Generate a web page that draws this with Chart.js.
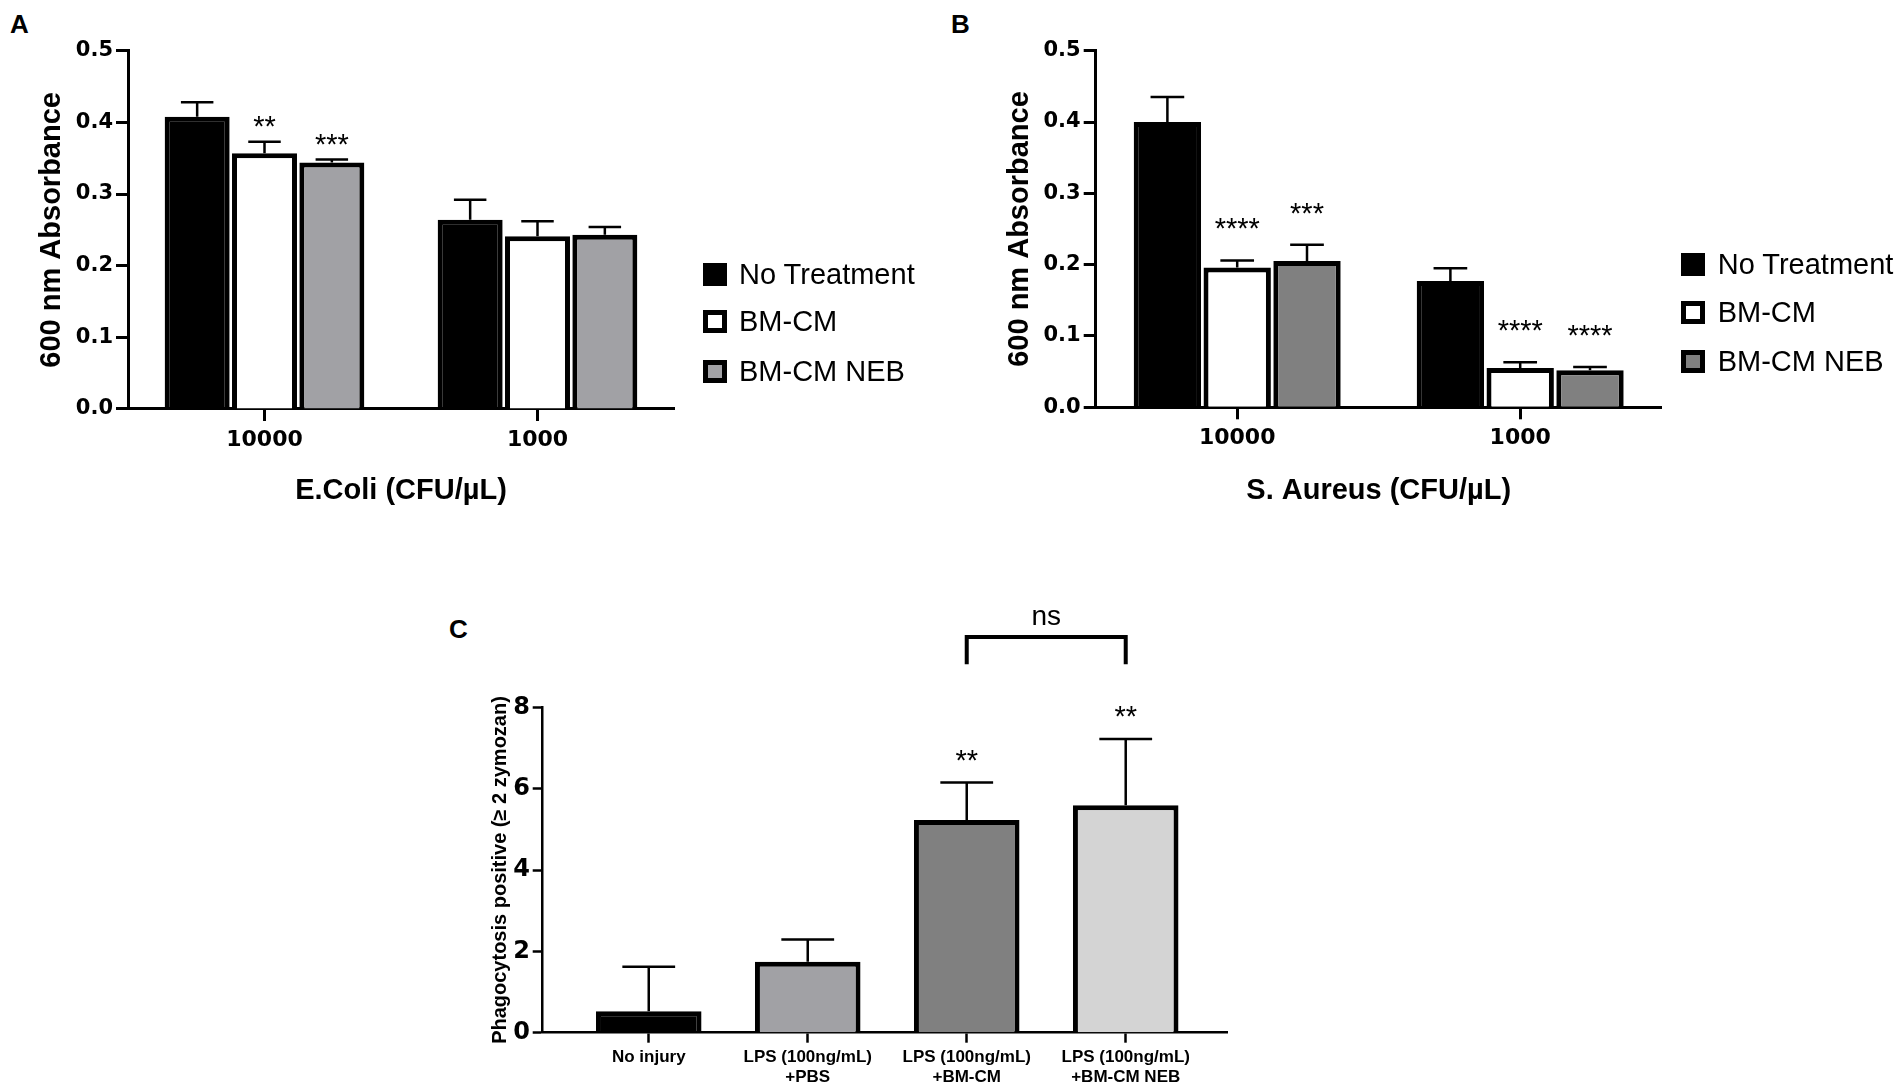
<!DOCTYPE html>
<html><head><meta charset="utf-8">
<script src="https://cdn.jsdelivr.net/npm/chart.js@4.4.1/dist/chart.umd.min.js"></script>
<style>
html,body{margin:0;padding:0;background:#fff;}
body{width:1901px;height:1090px;position:relative;overflow:hidden;font-family:'Liberation Sans',Arial,sans-serif;color:#000;}
canvas{position:absolute;left:0;top:0;}
.panel{position:absolute;font-weight:bold;font-size:26px;line-height:1;}
.legend{position:absolute;left:0;top:0;}
.legend .row{position:absolute;height:24px;display:flex;align-items:center;white-space:nowrap;}
.legend .box{width:24px;height:23px;box-sizing:border-box;border:5px solid #000;flex:none;}
.legend .lbl{font-size:29px;margin-left:12px;}
</style></head>
<body>
<div class="panel" style="left:10px;top:11px">A</div>
<div class="panel" style="left:951px;top:11px">B</div>
<div class="panel" style="left:449px;top:616px">C</div>
<canvas id="cA" width="1901" height="1090"></canvas>
<canvas id="cB" width="1901" height="1090"></canvas>
<canvas id="cC" width="1901" height="1090"></canvas>
<div id="legA" class="legend"></div>
<div id="legB" class="legend"></div>
<script>
// ---------------- data ----------------
const seriesNames = ['No Treatment', 'BM-CM', 'BM-CM NEB'];
const yTickLabelsAB = ['0.0', '0.1', '0.2', '0.3', '0.4', '0.5'];

// Panel A : E. coli
const ecoliCats = ['10000', '1000'];
const ecoliNoTreat = [0.408, 0.264];
const ecoliBMCM = [0.357, 0.241];
const ecoliNEB = [0.344, 0.243];
const ecoliNoTreatErr = [0.020, 0.028];
const ecoliBMCMErr = [0.016, 0.021];
const ecoliNEBErr = [0.004, 0.011];
const ecoliNoTreatStars = ['', ''];
const ecoliBMCMStars = ['**', ''];
const ecoliNEBStars = ['***', ''];

// Panel B : S. aureus
const saureusCats = ['10000', '1000'];
const saureusNoTreat = [0.400, 0.177];
const saureusBMCM = [0.196, 0.055];
const saureusNEB = [0.205, 0.052];
const saureusNoTreatErr = [0.035, 0.018];
const saureusBMCMErr = [0.010, 0.008];
const saureusNEBErr = [0.023, 0.0045];
const saureusNoTreatStars = ['', ''];
const saureusBMCMStars = ['****', '****'];
const saureusNEBStars = ['***', '****'];

// Panel C : phagocytosis
const phagoCats = [['No injury'], ['LPS (100ng/mL)', '+PBS'], ['LPS (100ng/mL)', '+BM-CM'], ['LPS (100ng/mL)', '+BM-CM NEB']];
const phagoValues = [0.53, 1.745, 5.23, 5.59];
const phagoErr = [1.09, 0.545, 0.92, 1.63];
const phagoStars = ['', '', '**', '**'];
const yTickLabelsC = ['0', '2', '4', '6', '8'];
const phagoComparison = { from: 2, to: 3, label: 'ns' };

// ---------------- styles ----------------
const colorsA = ['#000000', '#ffffff', '#a1a1a5'];
const colorsB = ['#000000', '#ffffff', '#808080'];
const colorsC = ['#000000', '#a1a1a5', '#808080', '#d4d4d4'];
const SANS = "'Liberation Sans', Arial, sans-serif";
const DEJA = "'DejaVu Sans', sans-serif";

const errStarPlugin = {
  id: 'errStars',
  afterDatasetsDraw(chart, args, o) {
    const ctx = chart.ctx, ys = chart.scales.y;
    chart.data.datasets.forEach((ds, d) => {
      const meta = chart.getDatasetMeta(d);
      meta.data.forEach((bar, i) => {
        const v = meta.controller.getParsed(i).y;
        const top = ys.getPixelForValue(v + ds.errors[i]);
        ctx.save();
        ctx.strokeStyle = '#000'; ctx.lineWidth = o.lw; ctx.lineCap = 'butt';
        ctx.beginPath();
        ctx.moveTo(bar.x, bar.y); ctx.lineTo(bar.x, top);
        const hw = bar.width / 4;
        ctx.moveTo(bar.x - hw, top); ctx.lineTo(bar.x + hw, top);
        ctx.stroke();
        if (ds.stars && ds.stars[i]) {
          ctx.fillStyle = '#000';
          ctx.font = o.starSize + 'px ' + SANS;
          ctx.textAlign = 'center'; ctx.textBaseline = 'alphabetic';
          ctx.fillText(ds.stars[i], bar.x, top - o.starGap + 0.59 * o.starSize);
        }
        ctx.restore();
      });
    });
    if (o.bracket) {
      const b = o.bracket, meta = chart.getDatasetMeta(0);
      const x1 = meta.data[b.from].x, x2 = meta.data[b.to].x;
      const yTop = ys.getPixelForValue(o.bracketLevel);
      const yBot = ys.getPixelForValue(o.bracketLevel - o.bracketDrop);
      ctx.save();
      ctx.strokeStyle = '#000'; ctx.lineWidth = 4; ctx.lineJoin = 'miter';
      ctx.beginPath();
      ctx.moveTo(x1, yBot); ctx.lineTo(x1, yTop); ctx.lineTo(x2, yTop); ctx.lineTo(x2, yBot);
      ctx.stroke();
      ctx.fillStyle = '#000';
      ctx.font = '28px ' + SANS;
      ctx.textAlign = 'center'; ctx.textBaseline = 'alphabetic';
      ctx.fillText(b.label, (x1 + x2) / 2, yTop - 12);
      ctx.restore();
    }
  }
};

function makeDatasets(vals, errs, stars, colors) {
  return vals.map((v, k) => ({
    label: seriesNames[k], data: v, errors: errs[k], stars: stars[k],
    backgroundColor: colors[k], borderColor: '#000', borderWidth: 5,
    categoryPercentage: 0.74, barPercentage: 0.965
  }));
}

function groupedChart(id, cats, vals, errs, stars, colors, xTitle, pad, xTitlePad, yTitlePad, starGap) {
  return new Chart(document.getElementById(id), {
    type: 'bar',
    data: { labels: cats, datasets: makeDatasets(vals, errs, stars, colors) },
    options: {
      responsive: false, animation: false, devicePixelRatio: 1,
      layout: { padding: pad },
      plugins: { legend: { display: false }, tooltip: { enabled: false },
        errStars: { lw: 2.5, starSize: 29, starGap: starGap } },
      scales: {
        x: {
          grid: { display: true, drawOnChartArea: false, offset: false, tickLength: 12, tickWidth: 3, tickColor: '#000' },
          border: { display: true, width: 3, color: '#000' },
          ticks: { color: '#000', font: { family: DEJA, weight: 'bold', size: 22, lineHeight: 1 }, padding: 8, maxRotation: 0 },
          title: { display: true, text: xTitle, color: '#000', font: { family: SANS, weight: 'bold', size: 29, lineHeight: 1 }, padding: { top: 0, bottom: xTitlePad } },
          afterFit: s => { s.height = 100; }
        },
        y: {
          min: 0, max: 0.5,
          grid: { display: true, drawOnChartArea: false, tickLength: 12, tickWidth: 3, tickColor: '#000' },
          border: { display: true, width: 3, color: '#000' },
          ticks: { stepSize: 0.1, color: '#000', padding: 3, font: { family: DEJA, weight: 'bold', size: 21, lineHeight: 1 },
            callback: (v, i) => yTickLabelsAB[i] },
          title: { display: true, text: '600 nm Absorbance', color: '#000', font: { family: SANS, weight: 'bold', size: 29, lineHeight: 1 }, padding: { top: yTitlePad, bottom: 0 } },
          afterFit: s => { s.width = 110; }
        }
      }
    },
    plugins: [errStarPlugin]
  });
}

groupedChart('cA', ecoliCats,
  [ecoliNoTreat, ecoliBMCM, ecoliNEB],
  [ecoliNoTreatErr, ecoliBMCMErr, ecoliNEBErr],
  [ecoliNoTreatStars, ecoliBMCMStars, ecoliNEBStars],
  colorsA, 'E.Coli (CFU/\u00b5L)',
  { left: 18, top: 50.7, right: 1227, bottom: 581 }, 3.5, 19.5, 23);

groupedChart('cB', saureusCats,
  [saureusNoTreat, saureusBMCM, saureusNEB],
  [saureusNoTreatErr, saureusBMCMErr, saureusNEBErr],
  [saureusNoTreatStars, saureusBMCMStars, saureusNEBStars],
  colorsB, 'S. Aureus (CFU/\u00b5L)',
  { left: 985.7, top: 50.7, right: 239.3, bottom: 582.7 }, 1.8, 19.8, 39);

new Chart(document.getElementById('cC'), {
  type: 'bar',
  data: {
    datasets: [{
      label: 'Phagocytosis', data: phagoValues.map((v, i) => ({ x: i, y: v })),
      errors: phagoErr, stars: phagoStars,
      backgroundColor: colorsC, borderColor: '#000', borderWidth: 5,
      categoryPercentage: 1, barPercentage: 0.664
    }]
  },
  options: {
    responsive: false, animation: false, devicePixelRatio: 1,
    layout: { padding: { left: 432.7, top: 707.3, right: 674, bottom: 0.3 } },
    plugins: { legend: { display: false }, tooltip: { enabled: false },
      errStars: { lw: 2.5, starSize: 29, starGap: 30, bracket: phagoComparison, bracketLevel: 9.73, bracketDrop: 0.67 } },
    scales: {
      x: {
        type: 'linear', min: -0.667, max: 3.637, offset: false,
        afterBuildTicks: s => { s.ticks = phagoCats.map((c, i) => ({ value: i })); },
        grid: { display: true, drawOnChartArea: false, offset: false, tickLength: 10, tickWidth: 2.5, tickColor: '#000' },
        border: { display: true, width: 2.5, color: '#000' },
        ticks: { autoSkip: false, maxRotation: 0, color: '#000', padding: 4.3,
          font: { family: SANS, weight: 'bold', size: 17, lineHeight: 1.18 },
          callback: v => phagoCats[v] },
        afterFit: s => { s.height = 57; }
      },
      y: {
        min: 0, max: 8,
        grid: { display: true, drawOnChartArea: false, tickLength: 10, tickWidth: 2.5, tickColor: '#000' },
        border: { display: true, width: 2.5, color: '#000' },
        ticks: { stepSize: 2, color: '#000', padding: 2.7, font: { family: DEJA, weight: 'bold', size: 24, lineHeight: 1 },
          callback: (v, i) => yTickLabelsC[i] },
        title: { display: true, text: 'Phagocytosis positive (\u2265 2 zymozan)', color: '#000',
          font: { family: SANS, weight: 'bold', size: 20, lineHeight: 1 }, padding: { top: 57.3, bottom: 0 } },
        afterFit: s => { s.width = 110; }
      }
    }
  },
  plugins: [errStarPlugin]
});

// ---------------- HTML legends ----------------
function buildLegend(id, colors, left, centers, gap) {
  const el = document.getElementById(id);
  seriesNames.forEach((n, k) => {
    const row = document.createElement('div');
    row.className = 'row';
    row.style.left = left + 'px';
    row.style.top = (centers[k] - 12) + 'px';
    const box = document.createElement('div');
    box.className = 'box';
    box.style.background = colors[k];
    const lbl = document.createElement('span');
    lbl.className = 'lbl';
    lbl.style.marginLeft = gap + 'px';
    lbl.textContent = n;
    row.appendChild(box); row.appendChild(lbl);
    el.appendChild(row);
  });
}
buildLegend('legA', colorsA, 703, [274, 321.7, 371], 12);
buildLegend('legB', colorsB, 1680.7, [264.3, 312.3, 361], 13);
</script>
</body></html>
